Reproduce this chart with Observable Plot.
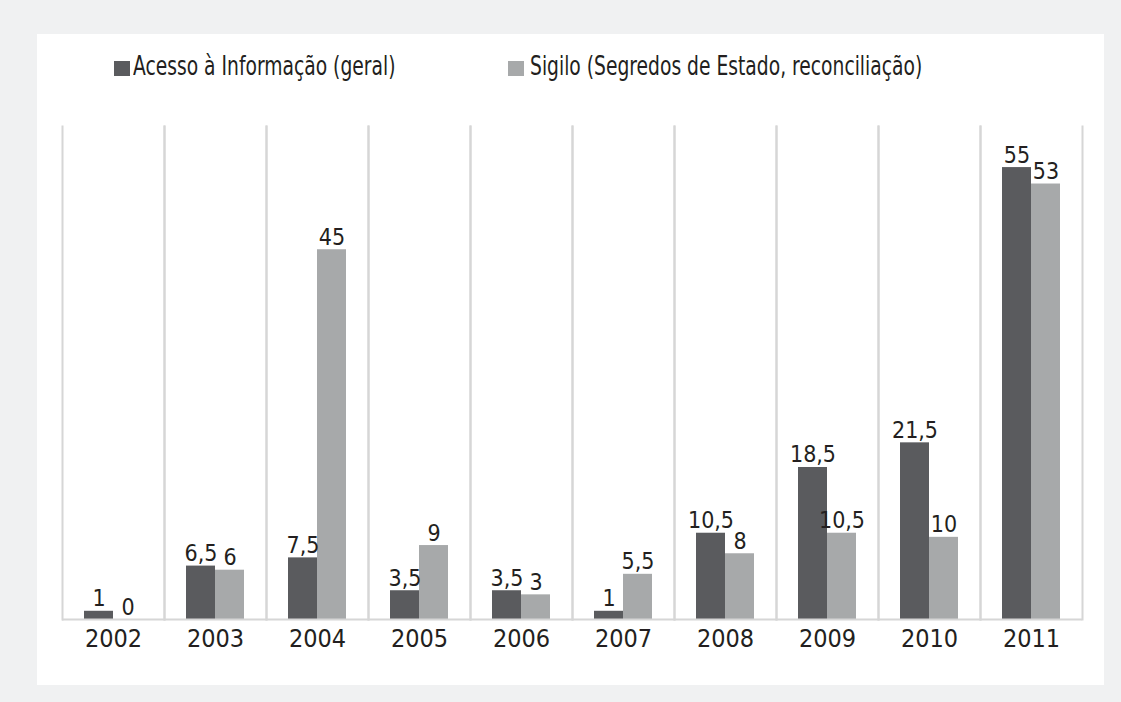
<!DOCTYPE html>
<html><head><meta charset="utf-8">
<script src="https://cdn.jsdelivr.net/npm/d3@7"></script>
<script src="https://cdn.jsdelivr.net/npm/@observablehq/plot@0.6"></script>
<style>
html,body{margin:0;padding:0;background:#f0f1f2;width:1121px;height:702px;overflow:hidden;}
#panel{position:absolute;left:37px;top:34px;width:1067px;height:651px;background:#fff;}
.sw{position:absolute;top:27px;width:16px;height:15px;}
.lt{position:absolute;top:17px;line-height:30px;font-family:"DejaVu Sans Condensed","DejaVu Sans",sans-serif;font-size:26px;color:#231f20;white-space:nowrap;transform:scaleX(0.8);transform-origin:0 50%;}
#chart{position:absolute;left:0;top:66px;}
</style></head>
<body>
<div id="panel">
  <span class="sw" style="left:77px;background:#5a5b5e"></span>
  <span class="lt" style="left:96px">Acesso à Informação (geral)</span>
  <span class="sw" style="left:471px;background:#a7a9aa"></span>
  <span class="lt" style="left:493px">Sigilo (Segredos de Estado, reconciliação)</span>
  <div id="chart"></div>
</div>
<script>
const years = ["2002","2003","2004","2005","2006","2007","2008","2009","2010","2011"];
const series = ["Acesso à Informação (geral)", "Sigilo (Segredos de Estado, reconciliação)"];
const acesso = [1, 6.5, 7.5, 3.5, 3.5, 1, 10.5, 18.5, 21.5, 55];
const sigilo = [0, 6, 45, 9, 3, 5.5, 8, 10.5, 10, 53];
const colors = ["#5a5b5e", "#a7a9aa"];

const data = years.flatMap((y, i) => [
  {year: y, serie: series[0], value: acesso[i]},
  {year: y, serie: series[1], value: sigilo[i]}
]);
const fmt = v => v.toLocaleString("pt-BR");
const grid = "#d6d6d6";

const chart = Plot.plot({
  width: 1067, height: 569,
  marginTop: 26, marginBottom: 50, marginLeft: 21, marginRight: 19,
  style: {fontFamily: '"DejaVu Sans Condensed","DejaVu Sans",sans-serif', fontSize: "25px", color: "#231f20", background: "transparent"},
  fx: {domain: years, padding: 0, label: null, axis: "bottom", tickSize: 0, tickPadding: 10},
  x: {domain: series, paddingInner: 0, paddingOuter: 0.735, axis: null},
  y: {domain: [0, 60], axis: null},
  color: {domain: series, range: colors},
  marks: [
    Plot.frame({anchor: "left", stroke: grid, strokeWidth: 2}),
    Plot.frame({anchor: "right", stroke: grid, strokeWidth: 2}),
    Plot.barY(data, {fx: "year", x: "serie", y: "value", fill: "serie"}),
    Plot.ruleY([0], {stroke: grid, strokeWidth: 2}),
    Plot.text(data, {fx: "year", x: "serie", y: "value", text: d => fmt(d.value), lineAnchor: "bottom", dy: -5, fontSize: 23, fill: "#231f20"})
  ]
});
document.getElementById("chart").appendChild(chart);
</script>
</body></html>
